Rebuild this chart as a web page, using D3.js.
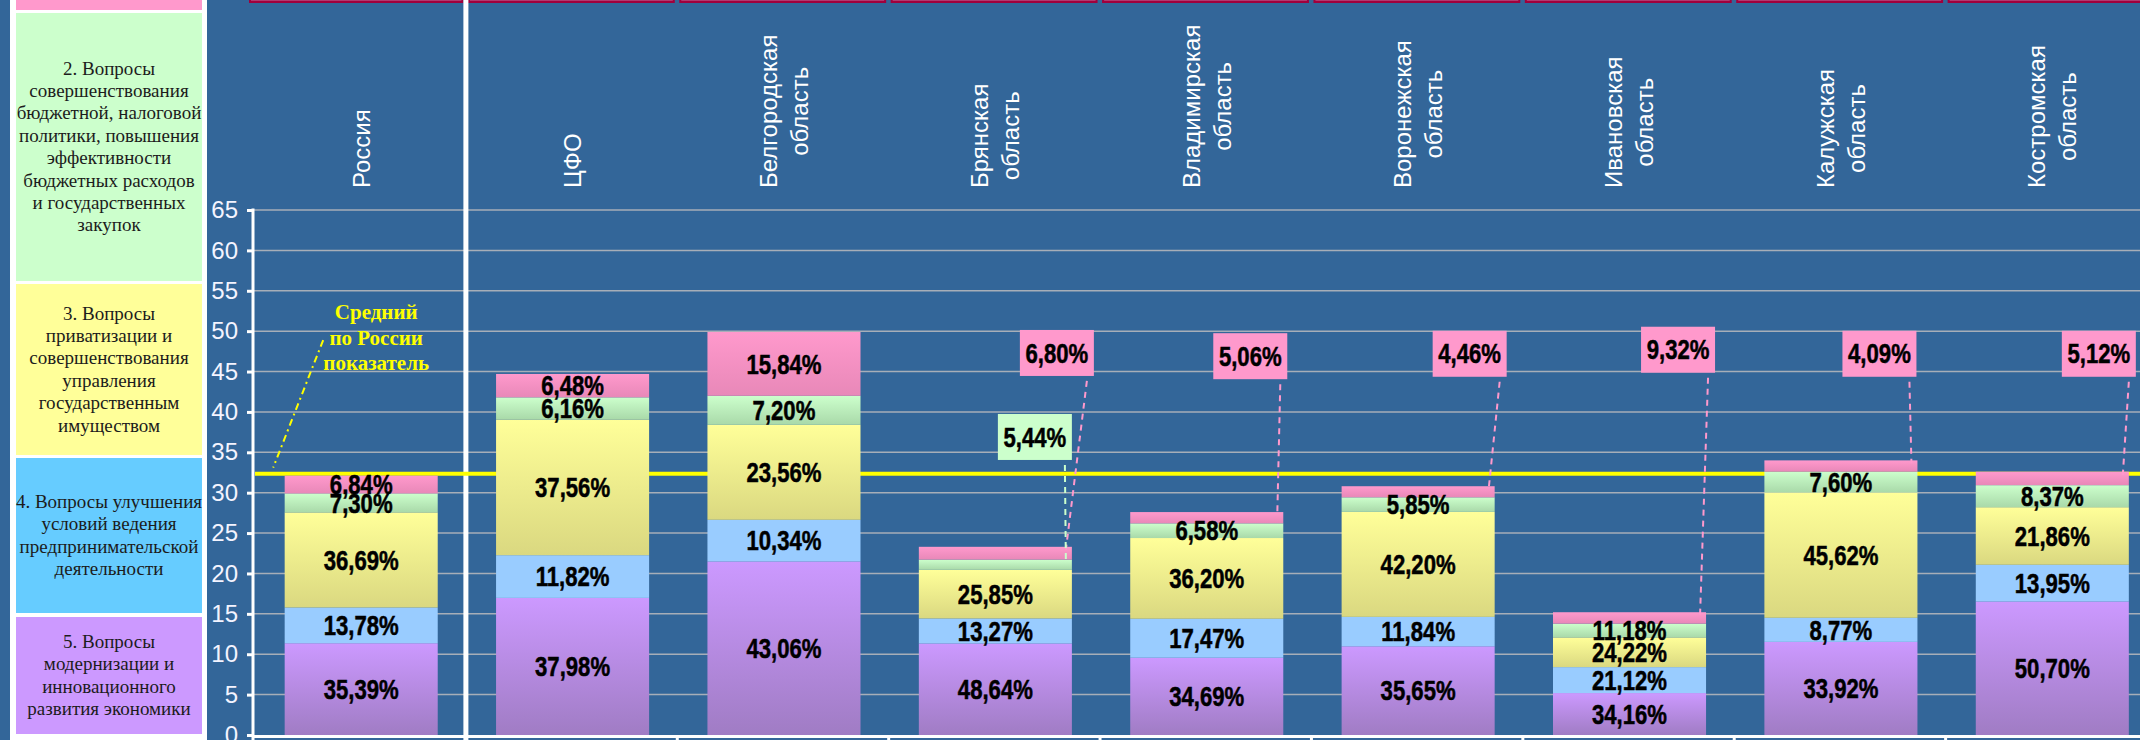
<!DOCTYPE html>
<html>
<head>
<meta charset="utf-8">
<script src="https://cdn.jsdelivr.net/npm/d3@7"></script>
<style>
  html, body { margin: 0; padding: 0; background: #336699; overflow: hidden; }
  svg { display: block; }
</style>
</head>
<body>
<svg id="chart"></svg>
<script>
// categories
const regions = ["Россия", "ЦФО", "Белгородская область", "Брянская область", "Владимирская область",
  "Воронежская область", "Ивановская область", "Калужская область", "Костромская область"];

// bar heights
const totals = [32.1, 44.7, 49.9, 23.3, 27.6, 30.8, 15.2, 34.0, 32.6];

// share of each group in a bar, % (the printed labels)
const share1 = [6.84, 6.48, 15.84, 6.80, 5.06, 4.46, 9.32, 4.09, 5.12];
const share2 = [7.30, 6.16, 7.20, 5.44, 6.58, 5.85, 11.18, 7.60, 8.37];
const share3 = [36.69, 37.56, 23.56, 25.85, 36.20, 42.20, 24.22, 45.62, 21.86];
const share4 = [13.78, 11.82, 10.34, 13.27, 17.47, 11.84, 21.12, 8.77, 13.95];
const share5 = [35.39, 37.98, 43.06, 48.64, 34.69, 35.65, 34.16, 33.92, 50.70];

const russiaAverage = 32.35;
const yTicks = [0, 5, 10, 15, 20, 25, 30, 35, 40, 45, 50, 55, 60, 65];

const legendLines = [
  [],
  ["2. Вопросы", "совершенствования", "бюджетной, налоговой", "политики, повышения", "эффективности",
    "бюджетных расходов", "и государственных", "закупок"],
  ["3. Вопросы", "приватизации и", "совершенствования", "управления", "государственным", "имуществом"],
  ["4. Вопросы улучшения", "условий ведения", "предпринимательской", "деятельности"],
  ["5. Вопросы", "модернизации и", "инновационного", "развития экономики"]
];
const averageLines = ["Средний", "по России", "показатель"];

// labels that sit in a box above the bar
const callouts = [
  { region: "Брянская область", key: "s1", dx: -15, v: 47.3 },
  { region: "Брянская область", key: "s2", dx: -37, v: 36.9 },
  { region: "Владимирская область", key: "s1", dx: -33, v: 46.9 },
  { region: "Воронежская область", key: "s1", dx: -25, v: 47.2 },
  { region: "Ивановская область", key: "s1", dx: -28, v: 47.7 },
  { region: "Калужская область", key: "s1", dx: -38, v: 47.2 },
  { region: "Костромская область", key: "s1", dx: -30, v: 47.2 }
];

const width = 2140;
const height = 740;
const sans = '"Liberation Sans", Arial, sans-serif';
const serif = '"Liberation Serif", "Times New Roman", serif';

const keys = ["s5", "s4", "s3", "s2", "s1"];   // bottom to top
const colors = {
  s1: ["#FF99CC", "#E888B8"],
  s2: ["#CCFFCC", "#A9D9A9"],
  s3: ["#FFFF99", "#DAD880"],
  s4: ["#99CCFF", "#99CCFF"],
  s5: ["#CC99FF", "#A07CC4"]
};
const legendColors = ["#FF99CC", "#CCFFCC", "#FFFF99", "#66CCFF", "#CC99FF"];
const legendCells = [[-20, 10], [13, 281], [284, 455], [458, 613], [617, 734]];

const rows = regions.map((r, i) => ({
  region: r,
  s1: totals[i] * share1[i] / 100,
  s2: totals[i] * share2[i] / 100,
  s3: totals[i] * share3[i] / 100,
  s4: totals[i] * share4[i] / 100,
  s5: totals[i] * share5[i] / 100
}));
const shares = { s1: share1, s2: share2, s3: share3, s4: share4, s5: share5 };

const svg = d3.select("#chart")
  .attr("width", width)
  .attr("height", height);

// scales
const pad = 0.276;
const x = d3.scaleBand()
  .domain(regions)
  .range([255.5, 2158])
  .paddingInner(pad)
  .paddingOuter(pad / 2);
const y = d3.scaleLinear()
  .domain([0, 65])
  .range([735, 210]);

const step = x.step();
const boundary = (r) => x(r) - step * pad / 2;
const fmt = (v) => d3.format(".2f")(v).replace(".", ",") + "%";

// gradients
const defs = svg.append("defs");
keys.forEach((k) => {
  const g = defs.append("linearGradient")
    .attr("id", "grad-" + k)
    .attr("x1", 0).attr("y1", 0).attr("x2", 0).attr("y2", 1);
  g.append("stop").attr("offset", "0%").attr("stop-color", colors[k][0]);
  g.append("stop").attr("offset", "100%").attr("stop-color", colors[k][1]);
});

// left legend table
svg.append("rect")
  .attr("x", 10).attr("y", 0)
  .attr("width", 197).attr("height", height)
  .attr("fill", "#fff");

legendCells.forEach((c, i) => {
  svg.append("rect")
    .attr("x", 16).attr("y", c[0])
    .attr("width", 186).attr("height", c[1] - c[0])
    .attr("fill", legendColors[i]);
  const mid = (c[0] + c[1]) / 2;
  const n = legendLines[i].length;
  svg.append("g").selectAll("text")
    .data(legendLines[i])
    .enter()
    .append("text")
    .attr("x", 109)
    .attr("y", (d, j) => mid + (j - (n - 1) / 2) * 22.4 + 6)
    .attr("text-anchor", "middle")
    .style("font-family", serif)
    .style("font-size", "19px")
    .attr("fill", "#1c1c1c")
    .text((d) => d);
});

// grid
svg.append("g")
  .selectAll("line")
  .data(yTicks.filter((t) => t > 0))
  .enter()
  .append("line")
  .attr("x1", 253).attr("x2", width)
  .attr("y1", (d) => y(d)).attr("y2", (d) => y(d))
  .attr("stroke", "#A7AEB8")
  .attr("stroke-width", 1.5);

// top strip (bottom edge of the table above)
svg.append("g")
  .selectAll("rect")
  .data(regions)
  .enter()
  .append("rect")
  .attr("x", (d, i) => i === 0 ? 250 : boundary(d) + 2)
  .attr("y", -10)
  .attr("width", (d, i) => boundary(d) + step - 4.5 - (i === 0 ? 250 : boundary(d) + 2))
  .attr("height", 12)
  .attr("fill", "#B03A70")
  .attr("stroke", "#A0003C")
  .attr("stroke-width", 2);

// separator between Russia and the regions
svg.append("rect")
  .attr("x", boundary(regions[1]) - 3.5)
  .attr("y", 0)
  .attr("width", 5)
  .attr("height", height)
  .attr("fill", "#fff");

// average line
svg.append("line")
  .attr("x1", 255).attr("x2", width)
  .attr("y1", y(russiaAverage)).attr("y2", y(russiaAverage))
  .attr("stroke", "#FFFF00")
  .attr("stroke-width", 4);

// bars
const series = d3.stack().keys(keys)(rows);

const layer = svg.append("g")
  .selectAll("g")
  .data(series)
  .enter()
  .append("g")
  .attr("fill", (d) => "url(#grad-" + d.key + ")");

layer.selectAll("rect")
  .data((d) => d)
  .enter()
  .append("rect")
  .attr("x", (d) => x(d.data.region))
  .attr("y", (d) => y(d[1]))
  .attr("width", x.bandwidth())
  .attr("height", (d) => y(d[0]) - y(d[1]));

// value labels inside the bars
const isCallout = (region, key) => callouts.some((c) => c.region === region && c.key === key);

function valueLabel(cx, cy, txt) {
  svg.append("text")
    .attr("transform", `translate(${cx},${cy}) scale(0.82,1)`)
    .attr("text-anchor", "middle")
    .attr("dy", "0.36em")
    .style("font-family", sans)
    .style("font-size", "27px")
    .style("font-weight", "bold")
    .attr("fill", "#000")
    .attr("stroke", "#000")
    .attr("stroke-width", 0.5)
    .text(txt);
}

series.forEach((s) => {
  s.forEach((d, i) => {
    if (isCallout(d.data.region, s.key)) return;
    const cx = x(d.data.region) + x.bandwidth() / 2;
    const cy = (y(d[0]) + y(d[1])) / 2;
    valueLabel(cx, cy, fmt(shares[s.key][i]));
  });
});

// callout boxes
callouts.forEach((c) => {
  const i = regions.indexOf(c.region);
  const s = series.find((ss) => ss.key === c.key);
  const d = s[i];
  const barRight = x(c.region) + x.bandwidth();
  const bx = barRight + c.dx;
  const by = y(c.v);
  const boxW = 74, boxH = 46;
  svg.append("line")
    .attr("x1", bx + boxW / 2 - 7).attr("y1", by + boxH / 2 + 5)
    .attr("x2", barRight - 6).attr("y2", y(d[1]) + 3)
    .attr("stroke", colors[c.key][0])
    .attr("stroke-width", 2)
    .attr("stroke-dasharray", "6,5");
  svg.append("rect")
    .attr("x", bx - boxW / 2).attr("y", by - boxH / 2)
    .attr("width", boxW).attr("height", boxH)
    .attr("fill", colors[c.key][0]);
  valueLabel(bx, by, fmt(shares[c.key][i]));
});

// average annotation
const rc = x(regions[0]) + x.bandwidth() / 2;
svg.append("line")
  .attr("x1", rc - 38).attr("y1", y(48.9))
  .attr("x2", rc - 88).attr("y2", y(33.1))
  .attr("stroke", "#FFFF00")
  .attr("stroke-width", 2)
  .attr("stroke-dasharray", "7,4,2,4");

svg.append("g").selectAll("text")
  .data(averageLines)
  .enter()
  .append("text")
  .attr("x", rc + 15)
  .attr("y", (d, i) => y(52.4) + 7 + i * 25.8)
  .attr("text-anchor", "middle")
  .style("font-family", serif)
  .style("font-size", "21px")
  .style("font-weight", "bold")
  .attr("fill", "#FFFF00")
  .text((d) => d);

// y axis
const yAxis = svg.append("g")
  .attr("transform", "translate(253,0)")
  .call(d3.axisLeft(y).tickValues(yTicks).tickSize(6).tickSizeOuter(0).tickPadding(9));
yAxis.select(".domain").remove();
yAxis.selectAll(".tick line").attr("stroke", "#fff").attr("stroke-width", 3);
yAxis.selectAll(".tick text")
  .attr("fill", "#F4F4FF")
  .style("font-family", sans)
  .style("font-size", "24px");
svg.append("line")
  .attr("x1", 253).attr("x2", 253)
  .attr("y1", y(65) - 1.5).attr("y2", height)
  .attr("stroke", "#fff")
  .attr("stroke-width", 3);

// x axis
svg.append("line")
  .attr("x1", 253).attr("x2", width)
  .attr("y1", 736.5).attr("y2", 736.5)
  .attr("stroke", "#fff")
  .attr("stroke-width", 3);
svg.append("g")
  .selectAll("line")
  .data(regions.slice(1))
  .enter()
  .append("line")
  .attr("x1", (d) => boundary(d) - 1).attr("x2", (d) => boundary(d) - 1)
  .attr("y1", 735).attr("y2", height)
  .attr("stroke", "#fff")
  .attr("stroke-width", 3);

// category labels, rotated
regions.forEach((r) => {
  const lines = r.split(" ");
  const g = svg.append("g");
  const texts = g.selectAll("text")
    .data(lines)
    .enter()
    .append("text")
    .attr("text-anchor", "middle")
    .attr("x", 0)
    .attr("y", (d, j) => (j - (lines.length - 1) / 2) * 31)
    .attr("dy", "0.35em")
    .style("font-family", sans)
    .style("font-size", "24px")
    .attr("fill", "#fff")
    .text((d) => d);
  let maxW = 0;
  texts.each(function () { maxW = Math.max(maxW, this.getComputedTextLength()); });
  const cx = x(r) + x.bandwidth() / 2;
  g.attr("transform", `translate(${cx},${188 - maxW / 2}) rotate(-90)`);
});
</script>
</body>
</html>
